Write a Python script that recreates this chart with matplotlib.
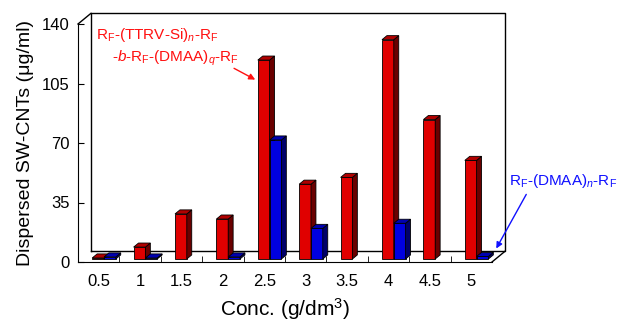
import matplotlib.pyplot as plt
from matplotlib.patches import Polygon

plt.rcParams['font.family'] = ['Liberation Sans', 'DejaVu Sans']
plt.rcParams['mathtext.fontset'] = 'custom'
plt.rcParams['mathtext.rm'] = 'Liberation Sans'
plt.rcParams['mathtext.it'] = 'Liberation Sans:italic'

conc = ['0.5', '1', '1.5', '2', '2.5', '3', '3.5', '4', '4.5', '5']
block = [0.6, 7, 26.5, 23.5, 117, 44, 48, 129, 82, 58]      # R_F-(TTRV-Si)n-R_F-b-R_F-(DMAA)q-R_F
homo = [1.2, 0.6, 0, 1.2, 70, 18, 0, 21, 0, 1.5]            # R_F-(DMAA)n-R_F

# pseudo-3d geometry (data units)
DX, DY = 0.314, 6.3
F1, F2 = 0.28, 0.66
W = 0.285
SHIFT = 0.04

red = ('#e00000', '#b00000', '#6a0000')
blue = ('#0000e0', '#0000b0', '#00006a')

fig = plt.figure(figsize=(6.17, 3.24), dpi=100)
ax = fig.add_axes([78 / 617, 62 / 324, 414 / 617, 238 / 324])
ax.set_xlim(-0.5, 9.5)
ax.set_ylim(0, 140)


def p(x, y, f):
    return (x + f * DX, y + f * DY)


def box(x0, x1, v, cols):
    front, top, side = cols
    faces = [
        ([p(x0, 0, F1), p(x1, 0, F1), p(x1, v, F1), p(x0, v, F1)], front),
        ([p(x1, 0, F1), p(x1, 0, F2), p(x1, v, F2), p(x1, v, F1)], side),
        ([p(x0, v, F1), p(x1, v, F1), p(x1, v, F2), p(x0, v, F2)], top),
    ]
    for pts, c in faces:
        ax.add_patch(Polygon(pts, closed=True, facecolor=c, edgecolor='black',
                             linewidth=0.6, clip_on=False, zorder=3))


# back wall and floor
lk = dict(color='black', lw=1.0, clip_on=False, zorder=1)
ax.plot([-0.5 + DX, 9.5 + DX, 9.5 + DX, -0.5 + DX, -0.5 + DX],
        [DY, DY, 140 + DY, 140 + DY, DY], **lk)
ax.plot([-0.5, -0.5 + DX], [140, 140 + DY], **lk)
ax.plot([9.5, 9.5 + DX], [0, DY], **lk)

for i in range(len(conc)):
    c = i + SHIFT
    if block[i] > 0:
        box(c - W, c, block[i], red)
    if homo[i] > 0:
        box(c, c + W, homo[i], blue)

for s in ['top', 'right']:
    ax.spines[s].set_visible(False)
ax.spines['left'].set_zorder(5)
ax.spines['bottom'].set_zorder(5)

ax.set_yticks([0, 35, 70, 105, 140])
ax.set_xticks(range(len(conc)))
ax.set_xticklabels(conc)
ax.set_xticks([i + 0.5 for i in range(len(conc) - 1)], minor=True)
ax.tick_params(axis='x', which='major', length=0, pad=9, labelsize=12)
ax.tick_params(axis='x', which='minor', direction='in', length=4)
ax.tick_params(axis='y', direction='in', length=4, pad=6, labelsize=12)

ax.set_xlabel('Conc. (g/dm$^3$)', fontsize=15, labelpad=5)
ax.set_ylabel('Dispersed SW-CNTs (\u03bcg/ml)', fontsize=14, labelpad=6)

ax.text(-0.07, 133.5, r'R$_\mathrm{F}$-(TTRV-Si)$_{\it{n}}$-R$_\mathrm{F}$',
        color='#ff1010', fontsize=11, va='center', ha='left', zorder=6)
ax.text(0.33, 120, r'-$\it{b}$-R$_\mathrm{F}$-(DMAA)$_{\it{q}}$-R$_\mathrm{F}$',
        color='#ff1010', fontsize=11, va='center', ha='left', zorder=6)
ax.annotate('', xy=(3.84, 106.5), xytext=(3.21, 114.7),
            arrowprops=dict(arrowstyle='-|>', color='#ff1010', lw=1, mutation_scale=9),
            annotation_clip=False)
ax.text(9.9, 47.6, r'R$_\mathrm{F}$-(DMAA)$_{\it{n}}$-R$_\mathrm{F}$',
        color='#1010ff', fontsize=11, va='center', ha='left', zorder=6)
ax.annotate('', xy=(9.57, 6.5), xytext=(10.36, 41.2),
            arrowprops=dict(arrowstyle='-|>', color='#1010ff', lw=1, mutation_scale=9),
            annotation_clip=False)

fig.savefig('out.png', dpi=100)
